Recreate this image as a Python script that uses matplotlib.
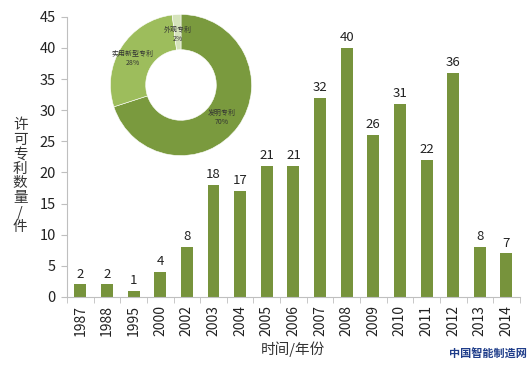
import matplotlib
matplotlib.use("Agg")
import matplotlib.pyplot as plt
import numpy as np

plt.rcParams["font.family"] = ["Noto Sans CJK SC", "DejaVu Sans"]

years = ["1987", "1988", "1995", "2000", "2002", "2003", "2004", "2005", "2006",
         "2007", "2008", "2009", "2010", "2011", "2012", "2013", "2014"]
counts = [2, 2, 1, 4, 8, 18, 17, 21, 21, 32, 40, 26, 31, 22, 36, 8, 7]

pie_labels = ["发明专利", "实用新型专利", "外观专利"]
pie_shares = [70, 28, 2]
pie_colors = ["#7a9a3e", "#9dbd5c", "#d5e3bb"]

BAR = "#77933c"
GRID = "#bfbfbf"

fig = plt.figure(figsize=(5.32, 3.67), dpi=100)
ax = fig.add_axes([0.126, 0.191, 0.851, 0.763])

x = np.arange(len(years))
ax.bar(x, counts, width=0.45, color=BAR)
for xi, v in zip(x, counts):
    ax.text(xi, v + 0.6, str(v), ha="center", va="bottom", fontsize=9.5, color="#222222")

ax.set_xlim(-0.5, len(years) - 0.5)
ax.set_ylim(0, 45)
ax.set_yticks(np.arange(0, 46, 5))
ax.set_xticks(x)
ax.set_xticklabels(years, rotation=90)
ax.set_xticks(np.arange(-0.5, len(years), 1), minor=True)
ax.tick_params(axis="x", which="major", length=0, pad=6, labelsize=10, colors="#222222")
ax.tick_params(axis="x", which="minor", length=4, color=GRID)
ax.tick_params(axis="y", length=4, color=GRID, labelsize=10.5, labelcolor="#222222", pad=4)
for side in ["top", "right"]:
    ax.spines[side].set_visible(False)
ax.spines["left"].set_color(GRID)
ax.spines["bottom"].set_color(GRID)

ax.set_xlabel("时间/年份", fontsize=10.5, color="#333333", labelpad=4)
fig.text(0.038, 0.52, "\n".join("许可专利数量/件"), ha="center", va="center",
         fontsize=10.5, color="#333333", linespacing=1.05)

# donut inset
pax = fig.add_axes([109 / 532, 1 - 157 / 367, 144 / 532, 144 / 367])
wedges, _ = pax.pie(pie_shares, colors=pie_colors, startangle=90, counterclock=False,
                    wedgeprops=dict(width=0.5, edgecolor="white", linewidth=0.4))
pax.set_xlim(-1.02, 1.02)
pax.set_ylim(-1.02, 1.02)
pax.set_aspect("equal")
label_pos = [(0.58, -0.46), (-0.68, 0.37), (-0.04, 0.72)]
for (lx, ly), name, share in zip(label_pos, pie_labels, pie_shares):
    pax.text(lx, ly, f"{name}\n{share}%", ha="center", va="center", fontsize=5,
             color="#333333", linespacing=1.2)

fig.text(0.99, 0.035, "中国智能制造网", ha="right", va="center", fontsize=8,
         fontweight="bold", color="#1f3d8a")

fig.savefig("out.png", dpi=100)
